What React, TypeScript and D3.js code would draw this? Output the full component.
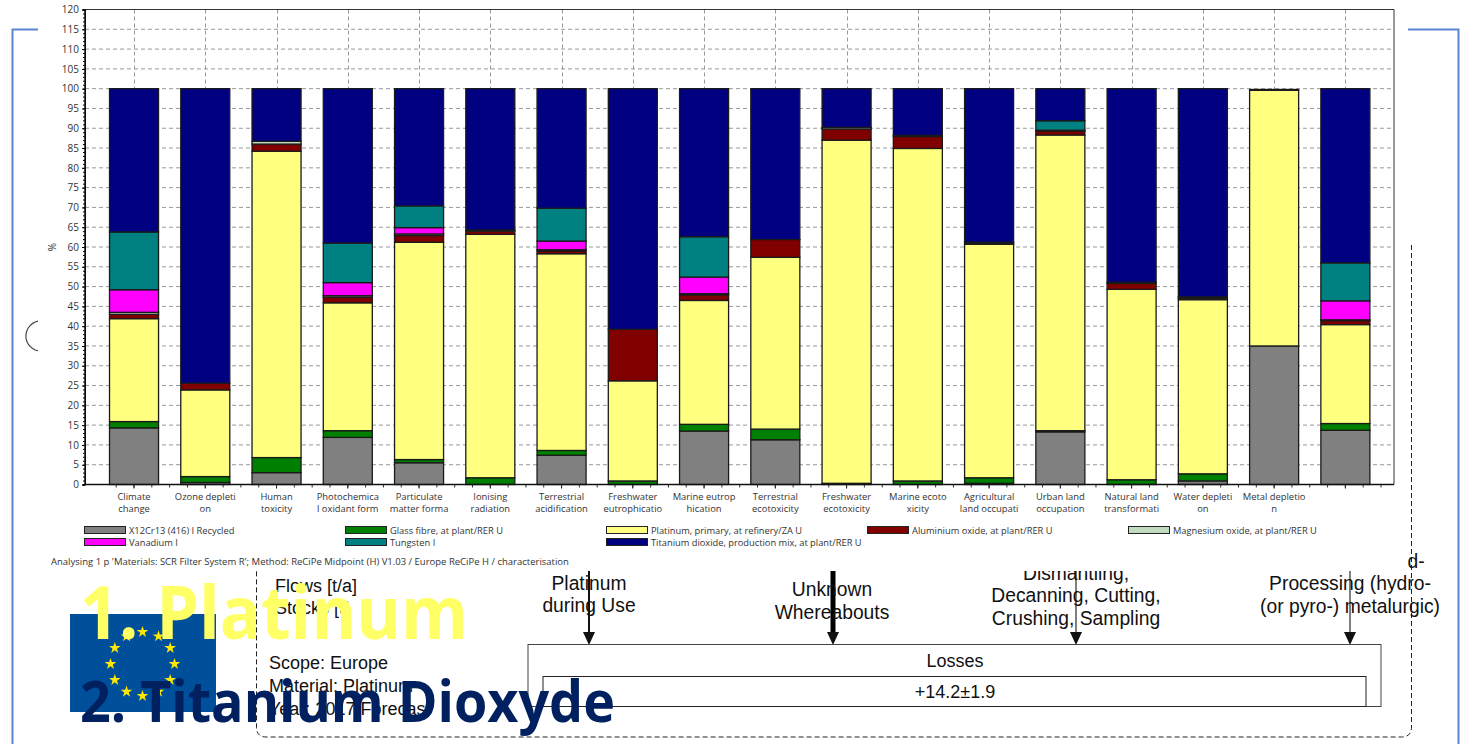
import React, { useEffect, useRef } from "react";
import * as d3 from "d3";

// impact categories, line breaks as in the SimaPro export (names get cut there too)
const categories = [
  "Climate|change", "Ozone depleti|on", "Human|toxicity", "Photochemica|l oxidant form",
  "Particulate|matter forma", "Ionising|radiation", "Terrestrial|acidification", "Freshwater|eutrophicatio",
  "Marine eutrop|hication", "Terrestrial|ecotoxicity", "Freshwater|ecotoxicity", "Marine ecoto|xicity",
  "Agricultural|land occupati", "Urban land|occupation", "Natural land|transformati", "Water depleti|on",
  "Metal depletio|n", " ",
];

const recycled = [14.3, 0.5, 3, 11.9, 5.5, 0, 7.4, 0, 13.5, 11.3, 0, 0, 0.3, 13.3, 0, 0.9, 35, 13.7];
const glassFibre = [1.6, 1.5, 3.8, 1.7, 0.8, 1.7, 1.2, 0.9, 1.7, 2.7, 0.3, 0.9, 1.4, 0.3, 1.2, 1.8, 0, 1.7];
const platinum = [26, 21.9, 77.4, 32.3, 54.9, 61.5, 49.7, 25.3, 31.3, 43.4, 86.7, 84, 59, 74.7, 48.1, 44, 64.6, 25];
const aluminium = [1.1, 1.7, 1.8, 1.4, 1.7, 0.8, 0.7, 13, 1.4, 4.5, 2.8, 3, 0.3, 1, 1.5, 0.4, 0.2, 1];
const magnesium = [0.5, 0, 0.7, 0.4, 0.4, 0.3, 0.3, 0, 0.3, 0, 0.4, 0.3, 0.2, 0.2, 0.3, 0.3, 0, 0.2];
const vanadium = [5.7, 0, 0, 3.3, 1.6, 0, 2.2, 0, 4.2, 0, 0, 0, 0, 0, 0, 0, 0, 4.8];
const tungsten = [14.6, 0, 0, 10, 5.5, 0, 8.3, 0, 10.2, 0, 0, 0, 0, 2.4, 0, 0, 0, 9.6];
const titanium = [36.2, 74.4, 13.3, 39, 29.6, 35.7, 30.2, 60.8, 37.4, 38.1, 9.8, 11.8, 38.8, 8.1, 48.9, 52.6, 0, 44];

const seriesNames = [
  "X12Cr13 (416) I Recycled", "Glass fibre, at plant/RER U", "Platinum, primary, at refinery/ZA U",
  "Aluminium oxide, at plant/RER U", "Magnesium oxide, at plant/RER U", "Vanadium I", "Tungsten I",
  "Titanium dioxide, production mix, at plant/RER U",
];
const seriesValues = [recycled, glassFibre, platinum, aluminium, magnesium, vanadium, tungsten, titanium];
const seriesColors = ["#808080", "#008000", "#ffff80", "#800000", "#c0dcc0", "#ff00ff", "#008080", "#000080"];
// legend slot order: row 1 left to right, then row 2
const legendSlots = [[0, 0], [1, 0], [2, 0], [3, 0], [4, 0], [0, 1], [1, 1], [2, 1]];

const yTicks = d3.range(0, 125, 5);
const chartFont = "'Open Sans', 'Noto Sans', sans-serif";
const flowFont = "'Liberation Sans', Arial, sans-serif";

const width = 1460;
const height = 744;
const plot = { left: 85, right: 1394, top: 9.5, bottom: 484.5 };

const App = () => {
  const svgRef = useRef<SVGSVGElement>(null);

  useEffect(() => {
    const svg = d3.select(svgRef.current);
    svg.selectAll("*").remove();

    // --- slide stuff behind the chart ---
    svg.append("rect").attr("width", width).attr("height", height).attr("fill", "#fff");
    svg.append("path")
      .attr("d", "M38,29.5H12.5V744M1408,29.5H1458.5V744")
      .attr("fill", "none").attr("stroke", "#5b85d0").attr("stroke-width", 2);
    svg.append("path")
      .attr("d", d3.arc()({ innerRadius: 14.5, outerRadius: 15.7, startAngle: -Math.PI, endAngle: 0 }))
      .attr("transform", "translate(41,336)")
      .attr("fill", "#444");

    // flag
    svg.append("rect").attr("x", 70).attr("y", 614).attr("width", 146).attr("height", 98).attr("fill", "#004f9a");
    const star = d3.symbol().type(d3.symbolStar).size(42);
    d3.range(12).forEach((i) => {
      const a = (i * Math.PI) / 6;
      svg.append("path").attr("d", star())
        .attr("transform", `translate(${142.5 + 32 * Math.sin(a)},${664 - 32 * Math.cos(a)})`)
        .attr("fill", "#ffe800");
    });

    // flow diagram
    svg.append("path")
      .attr("d", "M1411.5,245V727Q1411.5,737 1401.5,737H266Q256.5,737 256.5,727V570")
      .attr("fill", "none").attr("stroke", "#222").attr("stroke-width", 1).attr("stroke-dasharray", "5,3");
    const flow = svg.append("g").attr("font-family", flowFont).attr("fill", "#111").attr("font-size", 19.3);
    const arrows = [[589, 2, "#111"], [833, 5, "#000"], [1076, 1.5, "#555"], [1350, 1.5, "#555"]];
    arrows.forEach(([x, w, c]: any) => {
      flow.append("line").attr("x1", x).attr("x2", x).attr("y1", 560).attr("y2", 636).attr("stroke", c).attr("stroke-width", w);
      flow.append("path").attr("d", `M${x - 6},632H${x + 6}L${x},645Z`).attr("fill", "#111");
    });
    flow.append("rect").attr("x", 528).attr("y", 644.5).attr("width", 853).attr("height", 62).attr("fill", "#fff").attr("stroke", "#444");
    flow.append("rect").attr("x", 543).attr("y", 676.5).attr("width", 823).attr("height", 30).attr("fill", "#fff").attr("stroke", "#222");
    const flowTexts: [string, number, number, string, number][] = [
      ["Flows  [t/a]", 275, 592, "start", 18], ["Stocks [t]", 275, 614, "start", 18],
      ["Scope: Europe", 269, 669, "start", 18], ["Material: Platinum", 269, 692, "start", 18], ["Year: 2017 Forecast", 269, 715, "start", 18],
      ["Platinum", 589, 590, "middle", 19.3], ["during Use", 589, 612, "middle", 19.3],
      ["Unknown", 832, 596, "middle", 19.3], ["Whereabouts", 832, 619, "middle", 19.3],
      ["Dismantling,", 1076, 580, "middle", 19.3], ["Decanning, Cutting,", 1076, 602, "middle", 19.3], ["Crushing, Sampling", 1076, 625, "middle", 19.3],
      ["d-", 1416, 568, "middle", 19.3], ["Processing (hydro-", 1350, 590, "middle", 19.3], ["(or pyro-) metalurgic)", 1350, 613, "middle", 19.3],
      ["Losses", 955, 667, "middle", 18], ["+14.2±1.9", 955, 698, "middle", 18],
    ];
    flowTexts.forEach(([t, x, y, a, s]) => {
      flow.append("text").attr("x", x).attr("y", y).attr("text-anchor", a).attr("font-size", s).text(t);
    });

    // --- the chart, white panel on top of the slide ---
    svg.append("rect").attr("x", 38).attr("y", 0).attr("width", 1370).attr("height", 571).attr("fill", "#fff");
    const chart = svg.append("g").attr("font-family", chartFont).attr("fill", "#333");

    const x = d3.scaleBand().domain(categories).range([98.4, 1381]).paddingInner(0.312).paddingOuter(0.156);
    const y = d3.scaleLinear().domain([0, 120]).range([plot.bottom, plot.top]);

    const grid = chart.append("g").attr("stroke", "#999").attr("stroke-dasharray", "4,3").attr("stroke-width", 1);
    yTicks.slice(1).forEach((t) => {
      grid.append("line").attr("x1", plot.left).attr("x2", plot.right).attr("y1", y(t)).attr("y2", y(t));
    });
    categories.forEach((c) => {
      const cx = Math.round(x(c)! + x.bandwidth() / 2) + 0.5;
      grid.append("line").attr("x1", cx).attr("x2", cx).attr("y1", plot.top).attr("y2", plot.bottom);
    });
    chart.append("path").attr("d", `M${plot.left},${plot.top}H${plot.right}V${plot.bottom}`)
      .attr("fill", "none").attr("stroke", "#333").attr("stroke-width", 1);

    // stacked bars
    const rows = categories.map((c, i) => {
      const row: any = { c };
      seriesNames.forEach((n, s) => { row[n] = seriesValues[s][i]; });
      return row;
    });
    const stacked = d3.stack().keys(seriesNames)(rows);
    stacked.forEach((layer, s) => {
      chart.append("g").selectAll("rect")
        .data(layer.filter((d) => d[1] - d[0] > 0))
        .join("rect")
        .attr("x", (d: any) => x(d.data.c)!)
        .attr("width", x.bandwidth())
        .attr("y", (d) => y(d[1]))
        .attr("height", (d) => y(d[0]) - y(d[1]))
        .attr("fill", seriesColors[s])
        .attr("stroke", "#1a1a1a")
        .attr("stroke-width", 1.3);
    });

    // axes
    const yAxis = chart.append("g").attr("transform", `translate(${plot.left},0)`)
      .call(d3.axisLeft(y).tickValues(yTicks).tickSize(3).tickPadding(3));
    const minorY = d3.axisLeft(y).tickValues(d3.range(0, 121, 1)).tickSize(2).tickFormat(() => "");
    chart.append("g").attr("transform", `translate(${plot.left},0)`).call(minorY);
    yAxis.selectAll("text").attr("font-size", 10).attr("font-family", chartFont).attr("fill", "#333");

    const xAxis = chart.append("g").attr("transform", `translate(0,${plot.bottom})`)
      .call(d3.axisBottom(x).tickSize(4).tickFormat(() => ""));
    const minorX = d3.scaleLinear().domain([0, 1]).range([x(categories[0])! + x.bandwidth() / 2, x(categories[1])! + x.bandwidth() / 2]);
    const minorXTicks = d3.range(-1, 71).map((k) => minorX(k / 4)).filter((v) => v > plot.left && v < plot.right);
    chart.append("g").selectAll("line").data(minorXTicks).join("line")
      .attr("x1", (d) => d).attr("x2", (d) => d)
      .attr("y1", plot.bottom).attr("y2", plot.bottom + 3).attr("stroke", "#333");
    chart.append("path").attr("d", `M${plot.left},${plot.bottom}H${plot.right}`).attr("stroke", "#111").attr("stroke-width", 1.5);
    chart.append("path").attr("d", `M${plot.left},${plot.top}V${plot.bottom}`).attr("stroke", "#111").attr("stroke-width", 1.5);
    xAxis.select(".domain").remove();

    categories.forEach((c) => {
      const cx = x(c)! + x.bandwidth() / 2;
      c.split("|").forEach((part, i) => {
        chart.append("text").attr("x", cx).attr("y", 500 + i * 12).attr("text-anchor", "middle")
          .attr("font-size", 9.4).text(part);
      });
    });
    chart.append("text").attr("transform", "translate(56,247) rotate(-90)").attr("text-anchor", "middle")
      .attr("font-size", 10).text("%");

    // legend
    seriesNames.forEach((n, i) => {
      const [col, row] = legendSlots[i];
      const lx = 84 + col * 261;
      const ly = 526 + row * 12;
      chart.append("rect").attr("x", lx + 0.5).attr("y", ly + 0.5).attr("width", 41).attr("height", 7)
        .attr("fill", seriesColors[i]).attr("stroke", "#222");
      chart.append("text").attr("x", lx + 45).attr("y", ly + 8).attr("font-size", 9.3).text(n);
    });
    chart.append("text").attr("x", 51).attr("y", 565).attr("font-size", 9.5)
      .text("Analysing 1 p 'Materials: SCR Filter System R';  Method: ReCiPe Midpoint (H) V1.03 /  Europe ReCiPe H / characterisation");

    // slide headings, above everything
    svg.append("text").attr("x", 80).attr("y", 639).attr("font-family", "'Open Sans', sans-serif")
      .attr("font-weight", 700).attr("font-size", 74).attr("fill", "#ffff66")
      .attr("textLength", 388).attr("lengthAdjust", "spacingAndGlyphs").text("1. Platinum");
    svg.append("text").attr("x", 80).attr("y", 722).attr("font-family", "'Open Sans', sans-serif")
      .attr("font-weight", 700).attr("font-size", 58).attr("fill", "#002060")
      .attr("textLength", 535).attr("lengthAdjust", "spacingAndGlyphs").text("2. Titanium Dioxyde");
  }, []);

  return (
    <svg ref={svgRef} width={width} height={height} style={{ position: "absolute", left: 0, top: 0 }} />
  );
};

export default App;
